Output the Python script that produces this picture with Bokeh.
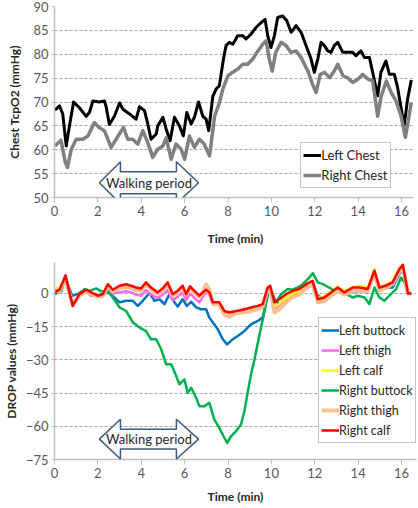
from bokeh.plotting import figure
from bokeh.layouts import column
from bokeh.models import FixedTicker, PolyAnnotation, Label, Range1d
from bokeh.embed import file_html
from bokeh.resources import INLINE

FONT = "Lato"

# ---------------- Top chart data: Chest TcpO2 (mmHg) ----------------
left_chest_t = [0.02, 0.23, 0.38, 0.54, 0.69, 0.88, 1.15, 1.46, 1.61, 1.77,
                2.07, 2.30, 2.38, 2.53, 2.76, 3.00, 3.15, 3.46, 3.76, 3.92,
                4.15, 4.30, 4.45, 4.69, 4.76, 5.00, 5.15, 5.33, 5.53, 5.76,
                5.94, 6.10, 6.30, 6.45, 6.64, 6.84, 6.99, 7.11, 7.30, 7.45,
                7.60, 7.79, 7.91, 8.06, 8.22, 8.45, 8.68, 8.83, 9.06, 9.29,
                9.52, 9.71, 9.83, 9.98, 10.14, 10.29, 10.52, 10.71, 10.91, 11.14,
                11.37, 11.60, 11.83, 11.98, 12.14, 12.29, 12.44, 12.60, 12.75, 12.90,
                13.06, 13.29, 13.52, 13.75, 13.90, 14.13, 14.29, 14.52, 14.67, 14.90,
                15.05, 15.28, 15.44, 15.67, 15.82, 16.12, 16.28, 16.45]
left_chest_v = [68.3, 69.2, 67.5, 60.8, 65.0, 70.0, 68.8, 67.0, 67.8, 70.2,
                70.0, 70.2, 69.0, 65.3, 67.0, 69.8, 68.5, 67.5, 66.4, 69.0,
                68.2, 65.4, 62.2, 63.3, 65.0, 66.8, 64.3, 61.9, 66.8, 65.0,
                62.9, 67.8, 65.4, 66.8, 70.0, 67.0, 66.4, 64.0, 71.2, 72.7,
                73.4, 79.0, 81.8, 82.5, 82.1, 83.9, 83.9, 83.2, 84.2, 85.6,
                86.6, 87.3, 83.9, 81.4, 83.9, 87.7, 88.0, 87.0, 84.6, 86.0,
                84.6, 81.8, 79.0, 76.2, 79.0, 82.5, 81.8, 80.7, 80.4, 81.8,
                82.5, 80.4, 80.4, 80.4, 79.7, 80.7, 79.3, 79.3, 76.2, 71.3,
                76.2, 78.6, 75.8, 75.8, 73.0, 65.0, 70.6, 74.6]

right_chest_t = [0.02, 0.30, 0.50, 0.60, 0.77, 1.00, 1.30, 1.54, 1.84, 2.07,
                 2.30, 2.61, 2.84, 3.18, 3.38, 3.60, 3.84, 4.07, 4.30, 4.53,
                 4.76, 5.00, 5.15, 5.38, 5.60, 5.84, 6.00, 6.22, 6.45, 6.68,
                 6.90, 7.15, 7.38, 7.60, 7.76, 8.00, 8.20, 8.45, 8.68, 8.90,
                 9.14, 9.38, 9.60, 9.76, 9.90, 10.04, 10.20, 10.45, 10.68, 10.90,
                 11.14, 11.37, 11.68, 11.90, 12.06, 12.25, 12.45, 12.68, 12.90, 13.06,
                 13.30, 13.50, 13.75, 14.00, 14.20, 14.45, 14.67, 14.90, 15.06, 15.30,
                 15.52, 15.75, 15.98, 16.18, 16.45]
right_chest_v = [60.8, 62.0, 57.3, 56.3, 60.0, 62.2, 62.2, 62.9, 65.7, 64.6,
                 64.0, 60.5, 62.2, 64.7, 62.2, 62.2, 61.2, 64.0, 61.5, 58.4,
                 60.1, 60.8, 62.5, 58.0, 61.2, 60.1, 58.0, 62.9, 60.5, 62.2,
                 61.2, 58.7, 67.0, 69.8, 72.7, 75.5, 76.2, 76.9, 77.9, 77.9,
                 79.0, 80.7, 82.1, 82.8, 79.0, 76.5, 80.4, 82.5, 81.8, 80.4,
                 80.7, 79.3, 76.5, 73.7, 72.0, 75.8, 76.2, 75.1, 76.5, 77.9,
                 75.5, 75.1, 74.1, 74.8, 75.8, 74.8, 74.4, 67.0, 71.2, 74.4,
                 72.0, 70.2, 67.0, 62.6, 69.9]

top_yticks = [50, 55, 60, 65, 70, 75, 80, 85, 90]

# ---------------- Bottom chart data: DROP values (mmHg) ----------------
left_buttock_t = [0.00, 0.31, 0.51, 0.81, 1.08, 1.38, 1.69, 2.07, 2.46, 2.76,
                  3.00, 3.30, 3.61, 3.84, 4.07, 4.38, 4.61, 4.84, 5.07, 5.30,
                  5.53, 5.68, 5.91, 6.10, 6.30, 6.53, 6.76, 6.99, 7.14, 7.30,
                  7.53, 7.76, 7.96, 8.22, 8.45, 8.76, 9.06, 9.37, 9.60, 9.83,
                  9.94, 10.14, 10.37, 10.68, 10.98, 11.29, 11.60, 11.91, 12.14, 12.44,
                  12.75, 13.06, 13.44, 13.75, 14.13, 14.44, 14.75, 14.98, 15.28, 15.59,
                  15.90, 16.05, 16.30, 16.44]
left_buttock_v = [-0.3, 1.2, 7.2, -1.0, -0.3, 1.7, -1.0, -1.0, 0.5, -1.8,
                  -4.0, -3.3, -3.3, -5.6, -3.3, 0.2, -3.3, -2.6, -4.8, -0.3,
                  -4.0, -5.9, -2.6, -5.6, -3.8, -6.3, -7.1, -7.1, -10.9, -13.1,
                  -16.2, -20.7, -23.0, -20.7, -19.2, -16.9, -13.9, -12.4, -10.9, -1.0,
                  2.7, -2.6, -4.8, -2.6, -0.3, 0.5, 2.7, 5.0, -1.0, -2.6,
                  -0.3, 0.5, -0.3, 0.5, 1.2, 0.5, 9.5, 1.2, 2.7, 2.7,
                  8.8, 11.0, 0.0, 0.0]

right_buttock_t = [0.00, 0.31, 0.51, 0.77, 0.84, 1.08, 1.38, 1.61, 1.92, 2.15,
                   2.46, 2.69, 3.00, 3.30, 3.61, 3.92, 4.22, 4.45, 4.69, 4.92,
                   5.15, 5.38, 5.61, 5.76, 5.99, 6.14, 6.30, 6.53, 6.68, 6.91,
                   7.14, 7.37, 7.60, 7.79, 7.96, 8.14, 8.37, 8.60, 8.76, 8.92,
                   9.07, 9.22, 9.38, 9.53, 9.68, 9.83, 9.98, 10.21, 10.45, 10.75,
                   10.98, 11.21, 11.44, 11.75, 11.91, 12.14, 12.37, 12.67, 12.90, 13.13,
                   13.44, 13.75, 13.98, 14.29, 14.52, 14.75, 14.98, 15.21, 15.44, 15.75,
                   15.98, 16.14, 16.30, 16.44]
right_buttock_v = [0.0, 1.0, 8.0, -2.0, -5.6, -2.0, 2.0, 1.2, 2.3, 1.0,
                   1.0, -1.8, -6.3, -7.9, -13.0, -15.4, -17.0, -20.7, -20.7, -25.2,
                   -32.0, -32.0, -37.3, -41.0, -38.8, -44.9, -42.6, -47.1, -50.9, -50.9,
                   -49.4, -57.0, -60.7, -64.5, -67.5, -64.5, -62.2, -59.2, -53.0, -44.0,
                   -36.0, -29.8, -22.0, -15.0, -8.0, 1.5, 1.2, -4.0, -0.3, 2.0,
                   1.7, 2.7, 4.2, 7.2, 9.2, 5.0, 4.2, 2.7, 1.2, 2.0,
                   -0.3, -1.8, -1.0, -1.8, -4.8, 2.7, -1.8, -3.3, -1.0, 2.0,
                   7.2, 5.0, 0.0, 0.0]

# thighs and calves share one time base
limb_t = [0.00, 0.23, 0.51, 0.69, 0.84, 1.15, 1.46, 1.69, 2.00, 2.23,
          2.46, 2.69, 3.00, 3.30, 3.53, 3.76, 3.99, 4.22, 4.45, 4.76,
          4.99, 5.22, 5.45, 5.68, 5.91, 6.07, 6.25, 6.45, 6.68, 6.84,
          6.99, 7.14, 7.30, 7.60, 7.83, 8.06, 8.37, 8.68, 9.06, 9.37,
          9.60, 9.83, 9.94, 10.14, 10.37, 10.68, 10.98, 11.29, 11.60, 11.90,
          12.14, 12.44, 12.75, 13.06, 13.36, 13.75, 14.06, 14.44, 14.75, 14.98,
          15.28, 15.59, 15.90, 16.06, 16.30, 16.45]
left_thigh_v = [0, 1.2, 8.5, 0, -5, -0.5, 1.5, 0, -1.5, -1,
                1.5, 0, 0.5, 1, 0.5, -0.5, -1, 1.5, -0.5, -2,
                -0.5, 1.5, -3, -1.5, 0.5, -3, 0, -2, -4, -1.5,
                0.5, -0.5, -5, -5, -8.5, -9, -8.5, -7, -7, -6.5,
                -6, 1, 2.5, -7, -5, -3, -1, 0, 2, 4,
                -2, -2.5, 0, 1.5, 0, 1.5, 1.5, 1.5, 8.5, 1.5,
                2.5, 4, 9.5, 11.5, 0, 0]
left_calf_v = [2.5, 2, 7.5, 0, -5, -0.5, 1.5, 0, -2, -1,
               3, 1, 2, 3, 2.5, 1.5, 1, 4, 1.5, -0.5,
               1, 4, -1, 0, 2.5, -1, 2, 0, -2, 0,
               1.5, 0, -4.5, -4.5, -8.5, -9.5, -8.5, -8, -7.5, -6.5,
               -5.5, 2.5, 3, -6, -4.5, -2, 0, 1, 3.5, 5,
               -2, -1.5, 1, 3, 1, 3, 3.5, 2.5, 11, 3,
               4, 5.5, 11.5, 12.5, 0, 0]
right_thigh_v = [1.5, 1, 7, 0, -5, -1, 1, -0.5, -1.5, -1,
                 3.5, 1, 2.5, 3, 2.5, 1.5, 1.5, 4, 2, 0,
                 1.5, 4, -1, 0.5, 2.5, -0.5, 2.5, 0.5, -1.5, 1,
                 4, 2, -4.5, -5, -9.5, -10.5, -9, -8.5, -8, -7,
                 -6, 2, 3, -8.5, -7, -4, -1.5, -0.5, 2.5, 4.5,
                 -4, -3.5, -1, 1, -0.5, 1, 1.5, 1, 9.5, 1.5,
                 2.5, 4.5, 10, 12, 0, 0]
right_calf_v = [0.5, 1.7, 8, 0.5, -5.6, -0.3, 1.7, 0.5, -1, -0.3,
                4.2, 1.7, 3.5, 4.2, 3.5, 2.7, 2.3, 5, 2.7, 0.5,
                2.3, 5, -0.3, 1.2, 3.5, -0.3, 3.2, 1.2, -1, 0.5,
                1.7, 0.5, -4, -4, -7.9, -8.6, -7.9, -7.4, -6.3, -5.6,
                -4.8, 2.7, 3.5, -4, -2.6, -0.3, 1.2, 2, 4.2, 5.7,
                -2.6, -1.8, 0.5, 2.7, 0.5, 2.7, 2.7, 2, 10.3, 2.7,
                3.5, 5, 11, 13, 0, 0]

bottom_yticks = [-75, -60, -45, -30, -15, 0]
xticks = [0, 2, 4, 6, 8, 10, 12, 14, 16]

# "Walking period" double arrow annotation (time extent, minutes)
walk_tip_left, walk_base_left, walk_base_right, walk_tip_right = 2.07, 3.04, 5.62, 6.64
walk_label = "Walking period"

X_MAX = 16.69
TICK_COLOR = "#595959"
AXIS_COLOR = "#bfbfbf"
GRID_COLOR = "#a6a6a6"


def style(p, yticks, ylabel_standoff, xlabel_standoff):
    p.outline_line_color = None
    p.xgrid.grid_line_color = None
    p.ygrid.grid_line_color = GRID_COLOR
    p.ygrid.grid_line_dash = "3 2"
    p.ygrid.grid_line_width = 1
    p.xaxis.ticker = FixedTicker(ticks=xticks)
    p.yaxis.ticker = FixedTicker(ticks=yticks)
    for ax in (p.xaxis, p.yaxis):
        ax.axis_line_color = AXIS_COLOR
        ax.axis_line_width = 1.5
        ax.major_tick_line_color = AXIS_COLOR
        ax.major_tick_in = 0
        ax.minor_tick_line_color = None
        ax.major_label_text_font = FONT
        ax.major_label_text_font_size = "13px"
        ax.major_label_text_color = TICK_COLOR
        ax.axis_label_text_font = FONT
        ax.axis_label_text_font_size = "12px"
        ax.axis_label_text_font_style = "bold"
        ax.axis_label_text_color = "#262626"
    p.xaxis.major_tick_out = 5
    p.xaxis.major_label_standoff = 3
    p.xaxis.axis_label_standoff = xlabel_standoff
    p.yaxis.major_tick_out = 3
    p.yaxis.major_label_standoff = 3
    p.yaxis.axis_label_standoff = ylabel_standoff


def style_legend(p, loc, size):
    lg = p.legend[0]
    lg.location = loc
    lg.label_text_font = FONT
    lg.label_text_font_size = size
    lg.label_text_color = "#262626"
    lg.glyph_width = 18
    lg.glyph_height = 20
    lg.label_height = 20
    lg.label_standoff = 0
    lg.spacing = 0
    lg.padding = 2
    lg.margin = 0
    lg.border_line_color = "#8c8c8c"
    lg.border_line_width = 1
    lg.background_fill_color = "white"
    lg.background_fill_alpha = 1


def add_arrow(p, center, head_half, shaft_half, label_y):
    xs = [walk_tip_left, walk_base_left, walk_base_left, walk_base_right, walk_base_right,
          walk_tip_right, walk_base_right, walk_base_right, walk_base_left, walk_base_left]
    ys = [center, center + head_half, center + shaft_half, center + shaft_half, center + head_half,
          center, center - head_half, center - shaft_half, center - shaft_half, center - head_half]
    p.add_layout(PolyAnnotation(xs=xs, ys=ys, fill_color="white", fill_alpha=1,
                                line_color="#3f5a80", line_alpha=1, line_width=1.5))
    p.add_layout(Label(x=(walk_tip_left + walk_tip_right) / 2, y=label_y, text=walk_label,
                       text_align="center", text_baseline="middle", text_font=FONT,
                       text_font_size="13px", text_color="#262626"))


# ---------------- Top figure ----------------
p1 = figure(frame_width=362, frame_height=191, x_range=Range1d(0, X_MAX), y_range=Range1d(50, 90),
            output_backend="svg", toolbar_location=None,
            min_border_left=47, min_border_right=1, min_border_top=6, min_border_bottom=53)
style(p1, top_yticks, 8, 12)
p1.xaxis.axis_label = "Time (min)"
p1.yaxis.axis_label = "Chest TcpO2 (mmHg)"
p1.line(left_chest_t, left_chest_v, line_color="black", line_width=3, line_join="round",
        legend_label="Left Chest")
p1.line(right_chest_t, right_chest_v, line_color="#808080", line_width=3.5, line_join="round",
        legend_label="Right Chest")
add_arrow(p1, 53.1, 4.4, 2.3, 53.0)
style_legend(p1, (250, 9), "13px")

# ---------------- Bottom figure ----------------
p2 = figure(frame_width=362, frame_height=197, x_range=Range1d(0, X_MAX), y_range=Range1d(-75, 14),
            output_backend="svg", toolbar_location=None,
            min_border_left=47, min_border_right=1, min_border_top=12, min_border_bottom=45)
style(p2, bottom_yticks, 4, 8)
p2.xaxis.axis_label = "Time (min)"
p2.yaxis.axis_label = "DROP values (mmHg)"
series = [
    (left_buttock_t, left_buttock_v, "#0070C0", 2.5, "Left buttock"),
    (limb_t, left_thigh_v, "#FF66FF", 2.5, "Left thigh"),
    (limb_t, left_calf_v, "#FFFF00", 2.5, "Left calf"),
    (right_buttock_t, right_buttock_v, "#00B050", 2.5, "Right buttock"),
    (limb_t, right_thigh_v, "#FAC090", 4, "Right thigh"),
    (limb_t, right_calf_v, "#FF0000", 2.5, "Right calf"),
]
for t, v, c, w, name in series:
    p2.line(t, v, line_color=c, line_width=w, line_join="round", legend_label=name)
add_arrow(p2, -65.8, 9.0, 4.5, -65.8)
style_legend(p2, (264, 16), "12.5px")

layout = column(p1, p2)
open("out.html", "w").write(file_html(layout, INLINE))
